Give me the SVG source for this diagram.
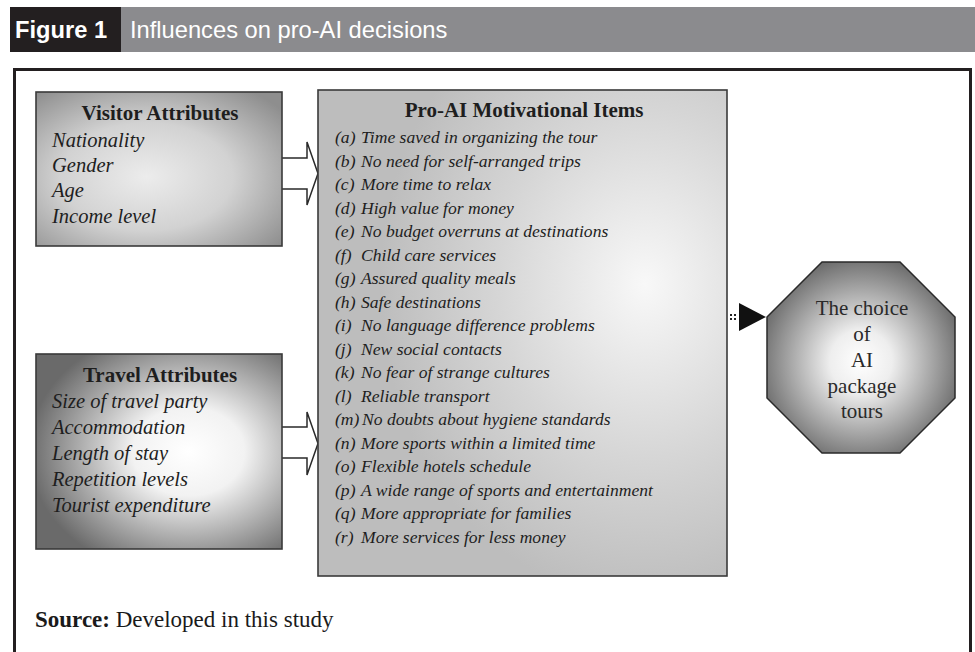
<svg xmlns="http://www.w3.org/2000/svg" width="975" height="652" viewBox="0 0 975 652">
<style>
.hdr{font-family:"Liberation Sans",Arial,sans-serif;font-size:23.7px;}
.ttl{font-family:"Liberation Serif","Times New Roman",serif;font-weight:bold;font-size:21px;fill:#1e1e1e;text-anchor:middle;}
.it{font-family:"Liberation Serif","Times New Roman",serif;font-style:italic;fill:#1e1e1e;}
.attr{font-size:20.5px;}
.mot{font-size:17.6px;}
.oct{font-family:"Liberation Serif","Times New Roman",serif;font-size:21px;fill:#2a2a2a;text-anchor:middle;}
.box{stroke:#3a3a3a;stroke-width:1.6;}
.arr{fill:#fff;stroke:#2a2a2a;stroke-width:1.5;stroke-linejoin:miter;}
.src{font-family:"Liberation Serif","Times New Roman",serif;font-size:23px;fill:#1a1a1a;}
</style>
<defs>
<radialGradient id="gVis" cx="0.45" cy="0.55" r="0.7">
<stop offset="0" stop-color="#ececec"/><stop offset="0.5" stop-color="#d2d2d2"/><stop offset="1" stop-color="#8e8e8e"/>
</radialGradient>
<radialGradient id="gTrav" cx="0.62" cy="0.5" r="0.65">
<stop offset="0" stop-color="#ffffff"/><stop offset="0.35" stop-color="#f2f2f2"/><stop offset="1" stop-color="#6a6a6a"/>
</radialGradient>
<radialGradient id="gMot" cx="0.8" cy="0.4" r="0.65">
<stop offset="0" stop-color="#f8f8f8"/><stop offset="0.55" stop-color="#d6d6d6"/><stop offset="1" stop-color="#bdbdbd"/>
</radialGradient>
<radialGradient id="gOct" cx="0.5" cy="0.52" r="0.55">
<stop offset="0" stop-color="#ffffff"/><stop offset="0.3" stop-color="#eeeeee"/><stop offset="1" stop-color="#6c6c6c"/>
</radialGradient>
</defs>
<rect width="975" height="652" fill="#fff"/>
<g id="header">
<rect x="10" y="7" width="965" height="45" fill="#8b8b8e"/>
<rect x="10" y="7" width="111" height="45" fill="#231f20"/>
<text class="hdr" x="15" y="38" fill="#fff" font-weight="bold">Figure 1</text>
<text class="hdr" x="130" y="38" fill="#fff">Influences on pro-AI decisions</text>
</g>
<rect id="frame" x="14.5" y="69.5" width="956" height="600" fill="none" stroke="#231f20" stroke-width="3"/>
<g id="connectors">
<path class="arr" d="M282,158 H307 V142 L318,173.5 L307,205 V189 H282"/>
<path class="arr" d="M282,427 H307 V412 L318,443.5 L307,475 V458 H282"/>
<line x1="730" y1="315" x2="738" y2="315" stroke="#222" stroke-width="2" stroke-dasharray="2,2"/>
<line x1="730" y1="319" x2="738" y2="319" stroke="#222" stroke-width="2" stroke-dasharray="2,2"/>
<polygon points="739,303 766,317 739,331" fill="#111"/>
</g>
<g id="visitor">
<rect class="box" x="36" y="92" width="246" height="154" fill="url(#gVis)"/>
<text class="ttl" x="160" y="120">Visitor Attributes</text>
<text class="it attr" x="52" y="147">Nationality</text>
<text class="it attr" x="52" y="172">Gender</text>
<text class="it attr" x="52" y="197">Age</text>
<text class="it attr" x="52" y="223">Income level</text>
</g>
<g id="travel">
<rect class="box" x="36" y="354" width="246" height="195" fill="url(#gTrav)"/>
<text class="ttl" x="160" y="382">Travel Attributes</text>
<text class="it attr" x="52" y="408">Size of  travel party</text>
<text class="it attr" x="52" y="434">Accommodation</text>
<text class="it attr" x="52" y="460">Length of  stay</text>
<text class="it attr" x="52" y="486">Repetition levels</text>
<text class="it attr" x="52" y="512">Tourist expenditure</text>
</g>
<g id="motivational">
<rect class="box" x="318" y="90" width="409" height="486" fill="url(#gMot)"/>
<text class="ttl" x="524" y="117" font-size="20">Pro-AI Motivational Items</text>
<g class="it mot">
<text x="335" y="143">(a)<tspan x="361">Time saved in organizing the tour</tspan></text>
<text x="335" y="166.5">(b)<tspan x="361">No need for self-arranged trips</tspan></text>
<text x="335" y="190">(c)<tspan x="361">More time to relax</tspan></text>
<text x="335" y="213.5">(d)<tspan x="361">High value for money</tspan></text>
<text x="335" y="237">(e)<tspan x="361">No budget overruns at destinations</tspan></text>
<text x="335" y="260.5">(f)<tspan x="361">Child care services</tspan></text>
<text x="335" y="284">(g)<tspan x="361">Assured quality meals</tspan></text>
<text x="335" y="307.5">(h)<tspan x="361">Safe destinations</tspan></text>
<text x="335" y="331">(i)<tspan x="361">No language difference problems</tspan></text>
<text x="335" y="354.5">(j)<tspan x="361">New social contacts</tspan></text>
<text x="335" y="378">(k)<tspan x="361">No fear of  strange cultures</tspan></text>
<text x="335" y="401.5">(l)<tspan x="361">Reliable transport</tspan></text>
<text x="335" y="425">(m)<tspan x="362">No doubts about hygiene standards</tspan></text>
<text x="335" y="448.5">(n)<tspan x="361">More sports within a limited time</tspan></text>
<text x="335" y="472">(o)<tspan x="361">Flexible hotels schedule</tspan></text>
<text x="335" y="495.5">(p)<tspan x="361">A wide range of  sports and entertainment</tspan></text>
<text x="335" y="519">(q)<tspan x="361">More appropriate for families</tspan></text>
<text x="335" y="542.5">(r)<tspan x="361">More services for less money</tspan></text>
</g>
</g>
<g id="choice">
<polygon points="822,262 900,262 955,317 955,398 900,453 822,453 767,398 767,317" fill="url(#gOct)" stroke="#2a2a2a" stroke-width="1.5"/>
<text class="oct" x="862" y="315">The choice</text>
<text class="oct" x="862" y="341">of</text>
<text class="oct" x="862" y="367">AI</text>
<text class="oct" x="862" y="393">package</text>
<text class="oct" x="862" y="418">tours</text>
</g>
<text class="src" x="35" y="627"><tspan font-weight="bold">Source:</tspan> Developed in this study</text>
</svg>
